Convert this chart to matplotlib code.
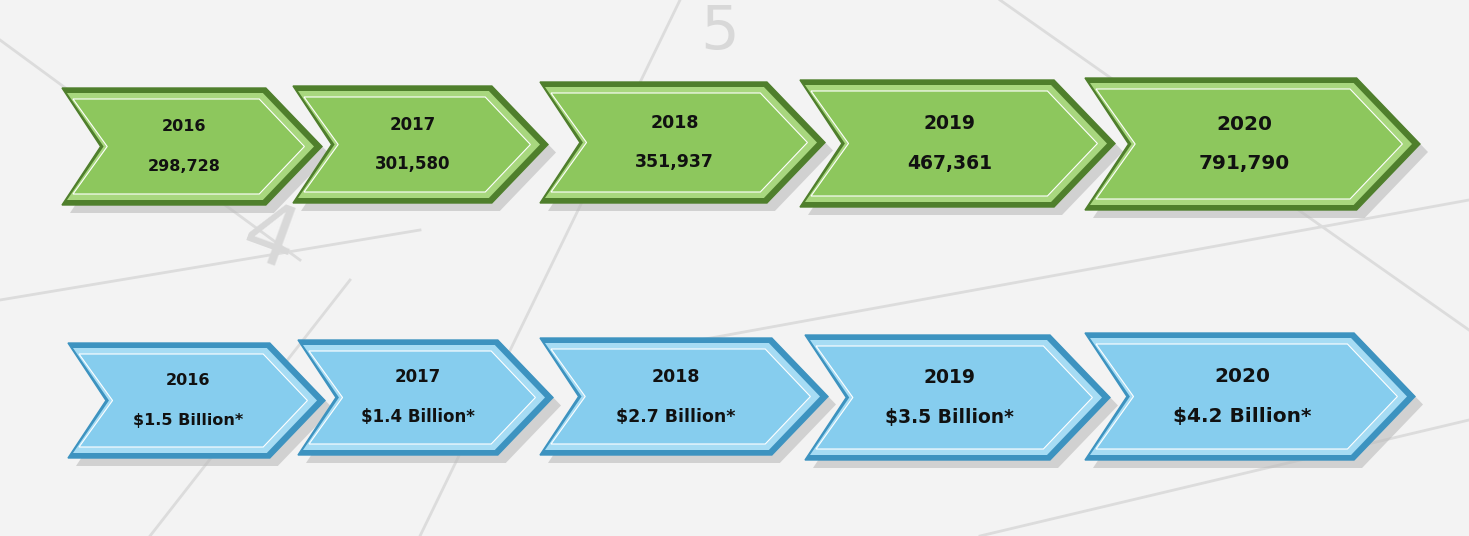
import matplotlib.pyplot as plt
from matplotlib.patches import Polygon

years = ["2016", "2017", "2018", "2019", "2020"]
counts = ["298,728", "301,580", "351,937", "467,361", "791,790"]
dollars = ["$1.5 Billion*", "$1.4 Billion*", "$2.7 Billion*", "$3.5 Billion*", "$4.2 Billion*"]

# chevron boxes (left, right, top, bottom) in pixel coordinates
green_boxes = [(62, 322, 88, 205), (293, 548, 86, 203), (540, 825, 82, 203),
               (800, 1115, 80, 207), (1085, 1420, 78, 210)]
blue_boxes = [(68, 325, 343, 458), (298, 553, 340, 455), (540, 828, 338, 455),
              (805, 1110, 335, 460), (1085, 1415, 333, 460)]
font_sizes = [11.5, 12, 12.5, 13.5, 14.5]


def chevron(l, r, t, b, inset=0):
    h = b - t
    notch = h * 0.33
    point = h * 0.48
    m = (t + b) / 2
    return [(l + inset, t + inset), (r - point - inset * 0.6, t + inset), (r - inset * 1.6, m),
            (r - point - inset * 0.6, b - inset), (l + inset, b - inset),
            (l + notch + inset * 0.6, m)]


fig = plt.figure(figsize=(14.69, 5.36), dpi=100)
ax = fig.add_axes([0, 0, 1, 1])
ax.set_xlim(0, 1469)
ax.set_ylim(536, 0)
ax.axis("off")
fig.patch.set_facecolor("#f3f3f3")

# faint calendar background lines
for (x0, y0, x1, y1) in [(0, 40, 300, 260), (0, 300, 420, 230), (680, 0, 420, 536),
                         (1000, 0, 1469, 330), (700, 340, 1469, 200), (150, 536, 350, 280),
                         (980, 536, 1469, 420)]:
    ax.plot([x0, x1], [y0, y1], color="#dcdcdc", lw=2, zorder=0)
ax.text(720, 32, "5", fontsize=44, color="#d8d8d8", ha="center", va="center", zorder=0)
ax.text(270, 240, "4", fontsize=60, color="#d8d8d8", ha="center", va="center", zorder=0, rotation=-20)

rows = [(green_boxes, counts, "#4f7f2c", "#8dc75d", "#a8d77e"),
        (blue_boxes, dollars, "#3d93c0", "#86cdee", "#a6dcf4")]
for boxes, values, edge, face, light in rows:
    for (l, r, t, b), yr, val, fs in zip(boxes, years, values, font_sizes):
        ax.add_patch(Polygon([(x + 8, y + 8) for x, y in chevron(l, r, t, b)],
                             closed=True, facecolor="#bbbbbb", edgecolor="none", alpha=0.6, zorder=1))
        ax.add_patch(Polygon(chevron(l, r, t, b), closed=True, facecolor=edge,
                             edgecolor=edge, lw=1, zorder=2))
        ax.add_patch(Polygon(chevron(l, r, t, b, 5), closed=True, facecolor=light,
                             edgecolor="none", zorder=3))
        ax.add_patch(Polygon(chevron(l, r, t, b, 11), closed=True, facecolor=face,
                             edgecolor="#ffffff", lw=0.8, zorder=4))
        cx = (l + r) / 2 - 8
        m = (t + b) / 2
        ax.text(cx, m - 20, yr, fontsize=fs, fontweight="bold", ha="center", va="center",
                color="#111111", zorder=5)
        ax.text(cx, m + 20, val, fontsize=fs, fontweight="bold", ha="center", va="center",
                color="#111111", zorder=5)

fig.savefig("out.png", dpi=100, facecolor=fig.get_facecolor())
